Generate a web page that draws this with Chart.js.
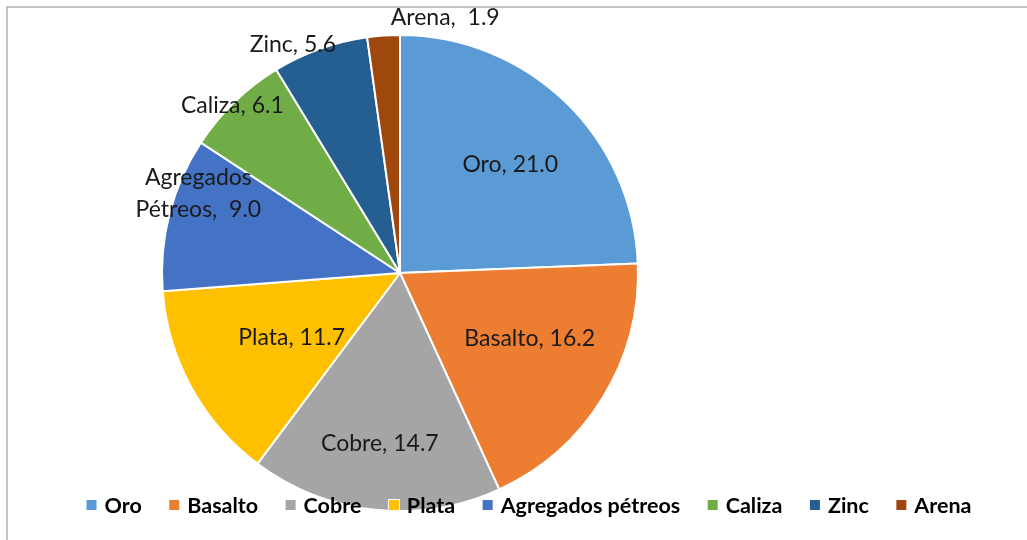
<!DOCTYPE html>
<html>
<head>
<meta charset="utf-8">
<script src="https://cdn.jsdelivr.net/npm/chart.js@4"></script>
<style>
  html, body { margin: 0; padding: 0; background: #fff; }
  #wrap { position: relative; width: 1027px; height: 540px; }
  #frame {
    position: absolute; left: 6px; top: 6px; right: 0; bottom: 0;
    border-left: 2px solid #c3c3c3; border-top: 2px solid #c3c3c3;
  }
  canvas { position: absolute; left: 0; top: 0; }
</style>
</head>
<body>
<div id="wrap">
  <div id="frame"></div>
  <canvas id="graph" width="1027" height="540"></canvas>
</div>
<script>
// minerales y su participación
const categorias = ["Oro", "Basalto", "Cobre", "Plata", "Agregados pétreos", "Caliza", "Zinc", "Arena"];
const valores = [21.0, 16.2, 14.7, 11.7, 9.0, 6.1, 5.6, 1.9];
const etiquetas = [["Oro, 21.0"], ["Basalto, 16.2"], ["Cobre, 14.7"], ["Plata, 11.7"],
  ["Agregados", "Pétreos,  9.0"], ["Caliza, 6.1"], ["Zinc, 5.6"], ["Arena,  1.9"]];
const colores = ["#5B9BD5", "#ED7D31", "#A5A5A5", "#FFC000", "#4472C4", "#70AD47", "#255E91", "#9E480E"];

// donde va cada etiqueta: fraccion del radio y giro (grados) respecto al centro del sector
const posRadio = [0.65, 0.61, 0.72, 0.53, 0.91, 0.995, 1.06, 1.09];
const posGiro = [1.6, -4.8, 0.7, -2, 7, -1, -5.5, 14];

const etiquetasPlugin = {
  id: "etiquetas",
  afterDatasetsDraw(chart) {
    const ctx = chart.ctx;
    const meta = chart.getDatasetMeta(0);
    ctx.save();
    ctx.font = "23px Lato";
    ctx.fillStyle = "#1a1a1a";
    ctx.textAlign = "center";
    ctx.textBaseline = "middle";
    meta.data.forEach((arc, k) => {
      const p = arc.getProps(["x", "y", "startAngle", "endAngle", "outerRadius"], true);
      const ang = (p.startAngle + p.endAngle) / 2 + posGiro[k] * Math.PI / 180;
      const r = p.outerRadius * posRadio[k];
      const cx = p.x + Math.cos(ang) * r;
      const cy = p.y + Math.sin(ang) * r;
      const lineas = etiquetas[k];
      const alto = 32;
      lineas.forEach((t, j) => {
        ctx.fillText(t, cx, cy + (j - (lineas.length - 1) / 2) * alto);
      });
    });
    ctx.restore();
  }
};

// leyenda dibujada encima del grafico, como en la hoja original
const leyendaPlugin = {
  id: "leyenda",
  afterDraw(chart) {
    const ctx = chart.ctx;
    ctx.save();
    ctx.font = "bold 21.5px Lato";
    ctx.textBaseline = "middle";
    const caja = 10, sepTexto = 8, sepItem = 27.5;
    let total = 0;
    const anchos = categorias.map(c => ctx.measureText(c).width);
    anchos.forEach((w, k) => { total += caja + sepTexto + w + (k ? sepItem : 0); });
    let x = 529 - total / 2;
    const y = 506;
    categorias.forEach((c, k) => {
      ctx.fillStyle = "#ffffff";
      ctx.fillRect(x - 1, y - 7, caja + 2, caja + 2);
      ctx.fillStyle = colores[k];
      ctx.fillRect(x, y - 6, caja, caja);
      ctx.fillStyle = "#000000";
      ctx.fillText(c, x + caja + sepTexto, y);
      x += caja + sepTexto + anchos[k] + sepItem;
    });
    ctx.restore();
  }
};

new Chart(document.getElementById("graph"), {
  type: "pie",
  data: {
    labels: categorias,
    datasets: [{
      data: valores,
      backgroundColor: colores,
      borderColor: "#ffffff",
      borderWidth: 2
    }]
  },
  options: {
    responsive: false,
    animation: false,
    layout: { padding: { top: 33, bottom: 27, left: 161, right: 388 } },
    plugins: {
      legend: { display: false },
      tooltip: { enabled: false }
    }
  },
  plugins: [etiquetasPlugin, leyendaPlugin]
});
</script>
</body>
</html>
